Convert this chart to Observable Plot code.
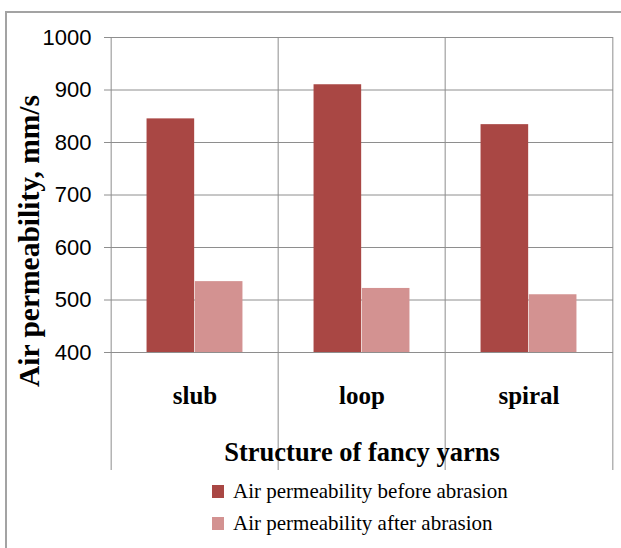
<!DOCTYPE html>
<html><head><meta charset="utf-8">
<script src="https://cdn.jsdelivr.net/npm/d3@7"></script>
<script src="https://cdn.jsdelivr.net/npm/@observablehq/plot@0.6"></script>
<style>
html,body{margin:0;padding:0;background:#fff;overflow:hidden;}
#wrap{position:relative;width:621px;height:548px;overflow:hidden;}
#border{position:absolute;left:5px;top:11px;width:700px;height:600px;border:2px solid #a3a3a3;box-sizing:border-box;pointer-events:none;}
#legend{position:absolute;left:212px;top:475px;font-family:"Liberation Serif";font-size:21px;color:#000;}
.item{height:32.5px;display:flex;align-items:center;white-space:nowrap;}
.sw{width:12px;height:13px;margin-right:9px;flex:none;}
</style></head><body>
<div id="wrap"><div id="chart"></div><div id="legend"></div><div id="border"></div></div>
<script>
const categories = ["slub", "loop", "spiral"];
const seriesNames = ["Air permeability before abrasion", "Air permeability after abrasion"];
const before = [845, 910, 834];
const after = [535, 522, 510];
const yTicks = [400, 500, 600, 700, 800, 900, 1000];
const yTitle = "Air permeability, mm/s";
const xTitle = "Structure of fancy yarns";
const colors = ["#A94744", "#D39291"];

const rows = categories.map((c, i) => ({category: c, before: before[i], after: after[i]}));
const W = 621, H = 475, ML = 110, MR = 8, MT = 37, MB = 123;
const bw = (W - ML - MR) / categories.length;
const barW = bw * 0.288;
const gridColor = "#8e8e8e";
const serif = "Liberation Serif";
const sans = "Liberation Sans";

const chart = Plot.plot({
  width: W, height: H,
  marginLeft: ML, marginRight: MR, marginTop: MT, marginBottom: MB,
  style: {background: "transparent", color: "#000"},
  x: {domain: categories, padding: 0},
  y: {domain: [yTicks[0], yTicks[yTicks.length - 1]]},
  marks: [
    Plot.gridY(yTicks, {stroke: gridColor, strokeOpacity: 1}),
    Plot.barY(rows, {x: "category", y1: yTicks[0], y2: "before", fill: colors[0], insetLeft: bw / 2 - barW, insetRight: bw / 2}),
    Plot.barY(rows, {x: "category", y1: yTicks[0], y2: "after", fill: colors[1], insetLeft: bw / 2, insetRight: bw / 2 - barW}),
    Plot.ruleX(categories, {x: d => d, dx: -bw / 2, insetBottom: -118, stroke: gridColor}),
    Plot.ruleX([categories[categories.length - 1]], {x: d => d, dx: bw / 2, insetBottom: -118, stroke: gridColor}),
    Plot.axisY({ticks: yTicks, tickFormat: d => String(d), tickSize: 6, tickPadding: 13, fontSize: 22, fontFamily: sans, stroke: gridColor, label: null}),
    Plot.axisX({tickSize: 0, tickPadding: 34, fontSize: 25, fontWeight: "bold", fontFamily: serif, label: null}),
    Plot.text([xTitle], {text: d => d, frameAnchor: "bottom", lineAnchor: "middle", dy: 100, fontSize: 26.5, fontWeight: "bold", fontFamily: serif, fill: "#000"}),
    Plot.text([yTitle], {text: d => d, frameAnchor: "left", textAnchor: "middle", lineAnchor: "middle", rotate: -90, dx: -81, dy: 46, fontSize: 29.5, fontWeight: "bold", fontFamily: serif, fill: "#000"})
  ]
});
document.getElementById("chart").appendChild(chart);

const legend = document.getElementById("legend");
seriesNames.forEach((name, i) => {
  const item = document.createElement("div");
  item.className = "item";
  const sw = document.createElement("span");
  sw.className = "sw";
  sw.style.background = colors[i];
  const t = document.createElement("span");
  t.textContent = name;
  item.appendChild(sw); item.appendChild(t);
  legend.appendChild(item);
});
</script>
</body></html>
